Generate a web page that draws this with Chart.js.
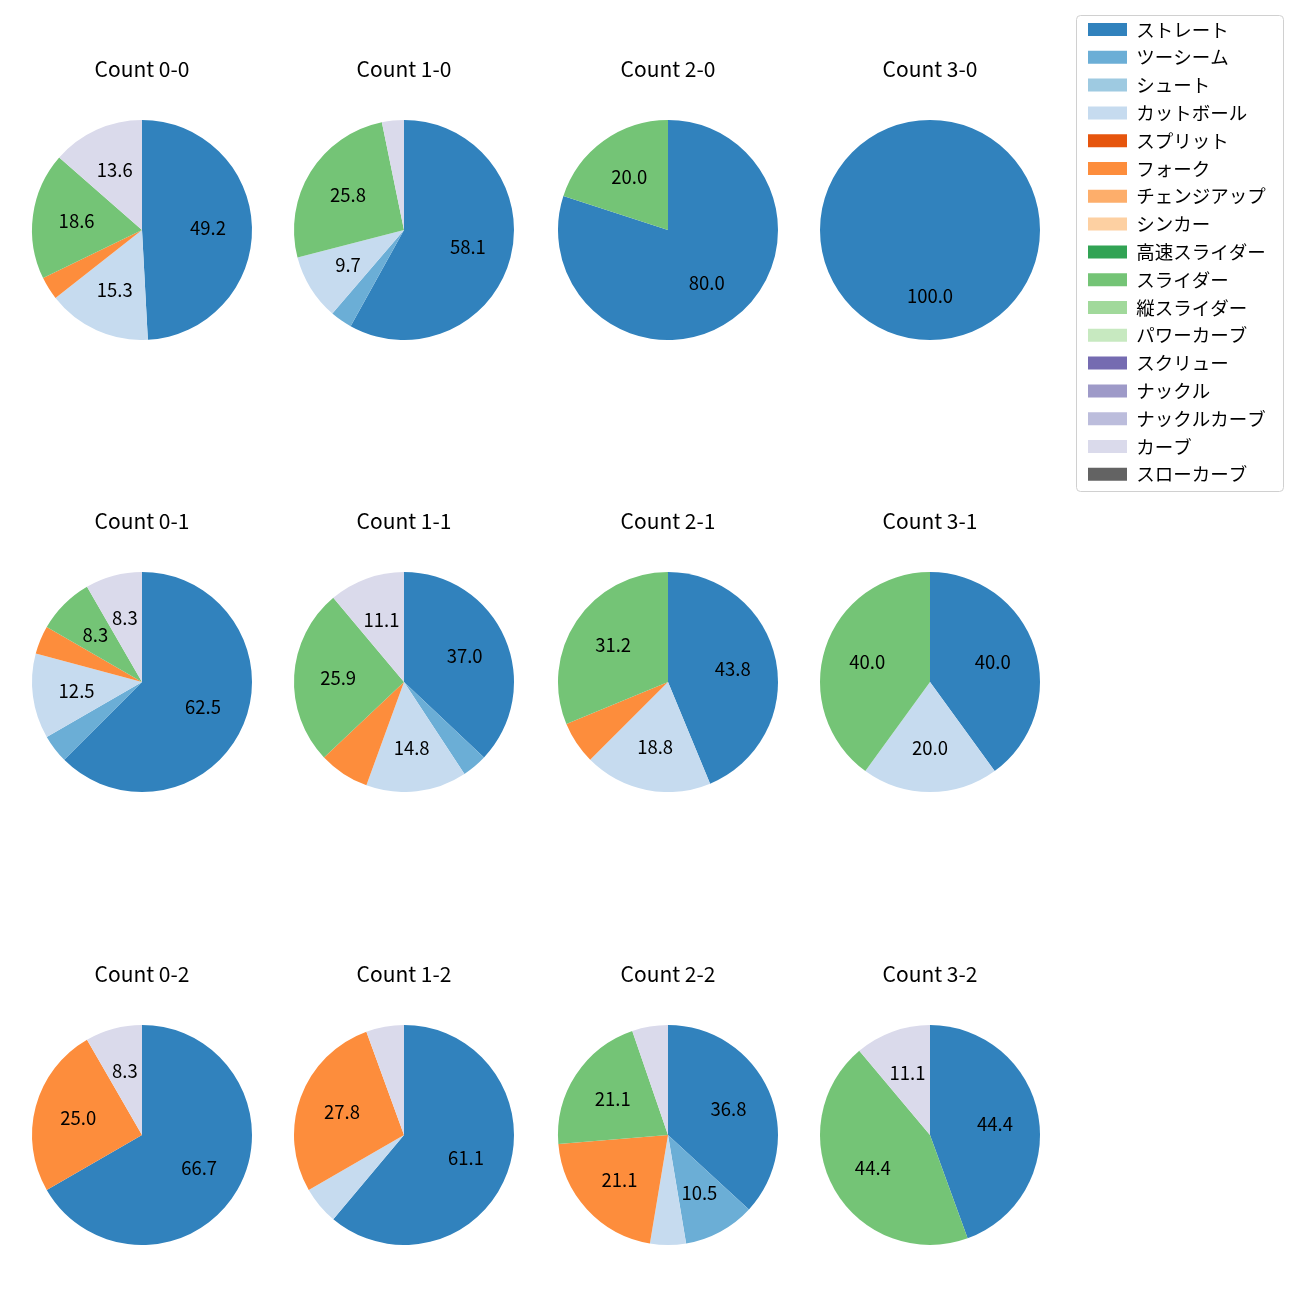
<!DOCTYPE html>
<html>
<head>
<meta charset="utf-8">
<script src="https://cdn.jsdelivr.net/npm/chart.js@4"></script>
<style>
  html, body { margin: 0; padding: 0; background: #fff; overflow: hidden; }
  #wrap { position: relative; width: 1300px; height: 1300px; }
  canvas { position: absolute; }
</style>
</head>
<body>
<div id="wrap"></div>
<script>
// categorías (tipos de lanzamiento) y colores tab20c
const pitchTypes = ['ストレート', 'ツーシーム', 'シュート', 'カットボール', 'スプリット', 'フォーク',
    'チェンジアップ', 'シンカー', '高速スライダー', 'スライダー', '縦スライダー', 'パワーカーブ',
    'スクリュー', 'ナックル', 'ナックルカーブ', 'カーブ', 'スローカーブ'];
const pitchColors = ['#3182bd', '#6baed6', '#9ecae1', '#c6dbef', '#e6550d', '#fd8d3c',
    '#fdae6b', '#fdd0a2', '#31a354', '#74c476', '#a1d99b', '#c7e9c0',
    '#756bb1', '#9e9ac8', '#bcbddc', '#dadaeb', '#636363'];

// cuentas (orden de los paneles)
const countLabels = ['0-0', '1-0', '2-0', '3-0', '0-1', '1-1', '2-1', '3-1', '0-2', '1-2', '2-2', '3-2'];

// lanzamientos por tipo en cada cuenta
const straight = [29, 18, 4, 1, 15, 10, 7, 2, 8, 11, 7, 4];
const twoSeam  = [0, 1, 0, 0, 1, 1, 0, 0, 0, 0, 2, 0];
const cutter   = [9, 3, 0, 0, 3, 4, 3, 1, 0, 1, 1, 0];
const fork     = [2, 0, 0, 0, 1, 2, 1, 0, 3, 5, 4, 0];
const slider   = [11, 8, 1, 0, 2, 7, 5, 2, 0, 0, 4, 4];
const curve    = [8, 1, 0, 0, 2, 3, 0, 0, 1, 1, 1, 1];

const seriesByType = {
    'ストレート': straight,
    'ツーシーム': twoSeam,
    'カットボール': cutter,
    'フォーク': fork,
    'スライダー': slider,
    'カーブ': curve
};

const FONT = '"Noto Sans CJK JP", "Noto Sans", sans-serif';
const colX = [141.5, 404, 667.5, 930];
const rowY = [229.5, 681.5, 1135];
const LABEL_MIN = 8;

// redondeo como el de Python (mitad al par)
function formatPct(p) {
    const v = p * 10;
    let r = Math.round(v);
    if (Math.abs(v - Math.floor(v) - 0.5) < 1e-9 && r % 2 !== 0) r -= 1;
    return (r / 10).toFixed(1);
}

const pctLabels = {
    id: 'pctLabels',
    afterDatasetsDraw(chart) {
        const ctx = chart.ctx;
        const meta = chart.getDatasetMeta(0);
        const values = chart.data.datasets[0].data;
        const total = values.reduce((a, b) => a + b, 0);
        ctx.save();
        ctx.font = '18.5px ' + FONT;
        ctx.fillStyle = '#000';
        ctx.textAlign = 'center';
        ctx.textBaseline = 'middle';
        meta.data.forEach(function (arc, i) {
            const pct = values[i] / total * 100;
            if (pct < LABEL_MIN) return;
            const p = arc.getProps(['x', 'y', 'startAngle', 'endAngle', 'outerRadius'], true);
            const mid = (p.startAngle + p.endAngle) / 2;
            const r = p.outerRadius * 0.6;
            ctx.fillText(formatPct(pct), p.x + Math.cos(mid) * r, p.y + Math.sin(mid) * r);
        });
        ctx.restore();
    }
};

function addCanvas(left, top, w, h) {
    const c = document.createElement('canvas');
    c.width = w;
    c.height = h;
    c.style.left = left + 'px';
    c.style.top = top + 'px';
    c.style.width = w + 'px';
    c.style.height = h + 'px';
    document.getElementById('wrap').appendChild(c);
    return c;
}

countLabels.forEach(function (cnt, k) {
    const cx = colX[k % 4];
    const cy = rowY[Math.floor(k / 4)];
    const data = pitchTypes.map(t => seriesByType[t] ? seriesByType[t][k] : 0);
    const canvas = addCanvas(Math.round(cx - 120), Math.round(cy - 184), 240, 294);
    new Chart(canvas.getContext('2d'), {
        type: 'pie',
        data: {
            labels: pitchTypes,
            datasets: [{
                data: data,
                backgroundColor: pitchColors,
                borderWidth: 0,
                hoverOffset: 0,
                offset: 0
            }]
        },
        options: {
            responsive: false,
            animation: false,
            devicePixelRatio: 1,
            events: [],
            layout: { padding: { left: 10, right: 10, top: 0, bottom: 0 } },
            plugins: {
                legend: { display: false },
                tooltip: { enabled: false },
                title: {
                    display: true,
                    text: 'Count ' + cnt,
                    color: '#000',
                    font: { family: FONT, size: 21, weight: 'normal', lineHeight: 1.2 },
                    padding: { top: 10.9, bottom: 37.9 }
                }
            }
        },
        plugins: [pctLabels]
    });
});

// leyenda con marco
const legendFrame = {
    id: 'legendFrame',
    beforeDraw(chart) {
        const ctx = chart.ctx;
        ctx.save();
        ctx.beginPath();
        ctx.roundRect(16.5, 15.5, 207, 476, 4);
        ctx.fillStyle = '#fff';
        ctx.fill();
        ctx.strokeStyle = '#d0d0d0';
        ctx.lineWidth = 1;
        ctx.stroke();
        ctx.restore();
    }
};

const legendCanvas = addCanvas(1060, 0, 240, 520);
new Chart(legendCanvas.getContext('2d'), {
    type: 'pie',
    data: {
        labels: pitchTypes,
        datasets: [{
            data: pitchTypes.map(() => 0),
            backgroundColor: pitchColors,
            borderWidth: 0
        }]
    },
    options: {
        responsive: false,
        animation: false,
        devicePixelRatio: 1,
        events: [],
        layout: { padding: { left: 18.7, top: 10.95, right: 0, bottom: 0 } },
        plugins: {
            tooltip: { enabled: false },
            legend: {
                display: true,
                position: 'left',
                align: 'start',
                maxWidth: 220,
                labels: {
                    boxWidth: 39,
                    boxHeight: 13,
                    padding: 9.3,
                    color: '#000',
                    font: { family: FONT, size: 18.5 }
                }
            }
        }
    },
    plugins: [legendFrame]
});
</script>
</body>
</html>
